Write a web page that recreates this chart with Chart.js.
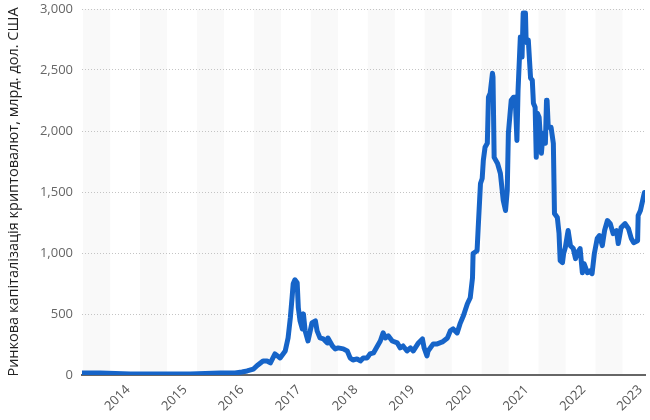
<!DOCTYPE html>
<html>
<head>
<meta charset="utf-8">
<script src="https://cdn.jsdelivr.net/npm/chart.js@4/dist/chart.umd.min.js"></script>
<style>
  html, body { margin: 0; padding: 0; background: #fff; }
  #wrap { width: 650px; height: 420px; }
</style>
</head>
<body>
<div id="wrap"><canvas id="c" width="650" height="420"></canvas></div>
<script>
// Time position (decimal year, as read on the picture's axis)
const timePos = [
  2013.19, 2013.51, 2014.04, 2014.56, 2015.09, 2015.62, 2015.88, 2016.00, 2016.09, 2016.20,
  2016.28, 2016.37, 2016.44, 2016.50, 2016.58, 2016.67, 2016.76, 2016.81, 2016.85, 2016.88,
  2016.90, 2016.93, 2016.97, 2016.99, 2017.02, 2017.06, 2017.08, 2017.11, 2017.16, 2017.23,
  2017.29, 2017.32, 2017.37, 2017.43, 2017.50, 2017.51, 2017.59, 2017.64, 2017.69, 2017.78,
  2017.85, 2017.90, 2017.95, 2018.02, 2018.08, 2018.13, 2018.20, 2018.25, 2018.31, 2018.38,
  2018.43, 2018.48, 2018.52, 2018.57, 2018.64, 2018.73, 2018.78, 2018.83, 2018.90, 2018.96,
  2019.01, 2019.10, 2019.17, 2019.20, 2019.25, 2019.27, 2019.36, 2019.43, 2019.52, 2019.61,
  2019.66, 2019.71, 2019.78, 2019.83, 2019.89, 2019.96, 2020.01, 2020.05, 2020.06, 2020.13,
  2020.15, 2020.19, 2020.22, 2020.24, 2020.27, 2020.31, 2020.33, 2020.36, 2020.40, 2020.41,
  2020.43, 2020.49, 2020.54, 2020.59, 2020.63, 2020.66, 2020.68, 2020.73, 2020.77, 2020.80,
  2020.83, 2020.85, 2020.89, 2020.92, 2020.94, 2020.98, 2020.99, 2021.01, 2021.03, 2021.07,
  2021.10, 2021.12, 2021.15, 2021.17, 2021.19, 2021.22, 2021.26, 2021.29, 2021.33, 2021.35,
  2021.36, 2021.38, 2021.43, 2021.47, 2021.49, 2021.54, 2021.57, 2021.59, 2021.63, 2021.65,
  2021.68, 2021.72, 2021.73, 2021.77, 2021.82, 2021.86, 2021.89, 2021.94, 2021.98, 2022.01,
  2022.07, 2022.12, 2022.15, 2022.19, 2022.24, 2022.28, 2022.33, 2022.37, 2022.42, 2022.47,
  2022.52, 2022.58, 2022.61, 2022.66, 2022.73, 2022.79, 2022.84, 2022.88, 2022.95, 2022.96,
  2023.00, 2023.05, 2023.07
];
// Market capitalisation, billion USD
const marketCap = [
  16, 16, 8, 8, 8, 16, 16, 25, 33, 49,
  82, 115, 115, 99, 173, 140, 197, 304, 469, 633,
  748, 781, 756, 551, 444, 378, 501, 362, 279, 427,
  444, 362, 304, 296, 263, 304, 238, 214, 222, 214,
  197, 140, 123, 132, 115, 140, 140, 173, 181, 238,
  279, 345, 304, 321, 279, 263, 222, 238, 197, 222,
  197, 263, 296, 222, 156, 197, 255, 255, 271, 304,
  362, 378, 345, 419, 485, 584, 633, 797, 995, 1019,
  1208, 1570, 1611, 1759, 1866, 1899, 2277, 2310, 2474, 2441,
  1784, 1734, 1652, 1430, 1348, 1512, 1981, 2252, 2277, 2277,
  1923, 2334, 2770, 2606, 2967, 2967, 2770, 2721, 2745, 2433,
  2417, 2228, 2195, 1784, 2145, 2113, 1817, 1981, 1899, 2252,
  2252, 2030, 2030, 1899, 1323, 1291, 1159, 937, 921, 995,
  1044, 1159, 1184, 1060, 1036, 954, 1003, 1036, 838, 912,
  838, 855, 830, 995, 1118, 1143, 1060, 1184, 1266, 1241,
  1159, 1184, 1077, 1208, 1241, 1200, 1118, 1085, 1101, 1307,
  1348, 1455, 1496
];
const tickYears = [2014, 2015, 2016, 2017, 2018, 2019, 2020, 2021, 2022, 2023];
const yTickValues = [0, 500, 1000, 1500, 2000, 2500, 3000];
const bandStarts = [2013, 2014, 2015, 2016, 2017, 2018, 2019, 2020, 2021, 2022];
const yTitle = 'Ринкова капіталізація криптовалют, млрд. дол. США';

const bandsPlugin = {
  id: 'bands',
  beforeDraw(chart) {
    const { ctx, chartArea, scales: { x } } = chart;
    ctx.save();
    ctx.beginPath();
    ctx.rect(chartArea.left, chartArea.top, chartArea.right - chartArea.left, chartArea.bottom - chartArea.top);
    ctx.clip();
    ctx.fillStyle = '#f9f9f9';
    bandStarts.forEach(y => {
      const a = x.getPixelForValue(y + 0.21);
      const b = x.getPixelForValue(y + 0.685);
      ctx.fillRect(a, chartArea.top, b - a, chartArea.bottom - chartArea.top);
    });
    ctx.restore();
  }
};

new Chart(document.getElementById('c'), {
  type: 'line',
  data: {
    datasets: [{
      data: timePos.map((t, i) => ({ x: t, y: marketCap[i] })),
      borderColor: '#1664c8',
      borderWidth: 5,
      pointRadius: 0,
      tension: 0,
      fill: false,
      borderJoinStyle: 'round',
      borderCapStyle: 'round'
    }]
  },
  options: {
    responsive: false,
    animation: false,
    devicePixelRatio: 1,
    layout: { padding: { top: 9, right: 5, left: 0, bottom: 0 } },
    plugins: { legend: { display: false }, tooltip: { enabled: false } },
    scales: {
      x: {
        type: 'linear',
        min: 2013.19,
        max: 2023.08,
        afterBuildTicks: s => { s.ticks = tickYears.map(v => ({ value: v })); },
        afterFit: s => { s.height = 45; s.paddingLeft = 0; s.paddingRight = 0; },
        ticks: {
          minRotation: 45, maxRotation: 45,
          autoSkip: false,
          font: { family: 'Open Sans', size: 13 },
          color: '#555',
          padding: 7,
          callback: v => String(v)
        },
        grid: { display: true, color: 'rgba(0,0,0,0)', drawTicks: false },
        border: { display: true, color: '#666', width: 2 }
      },
      y: {
        min: 0, max: 3000,
        afterBuildTicks: s => { s.ticks = yTickValues.map(v => ({ value: v })); },
        afterFit: s => { s.width = 82; s.paddingTop = 0; s.paddingBottom = 0; },
        ticks: {
          font: { family: 'Open Sans', size: 13 },
          color: '#666',
          padding: 9,
          callback: v => v.toLocaleString('en-US')
        },
        grid: {
          color: ctx => ctx.tick && ctx.tick.value === 0 ? 'rgba(0,0,0,0)' : '#c4c4c4',
          lineWidth: 1,
          drawTicks: false
        },
        border: { display: false, dash: [1, 2] },
        title: {
          display: true,
          text: yTitle,
          font: { family: 'Open Sans', size: 14.5 },
          color: '#222',
          padding: { top: 5, bottom: 0 }
        }
      }
    }
  },
  plugins: [bandsPlugin]
});
</script>
</body>
</html>
